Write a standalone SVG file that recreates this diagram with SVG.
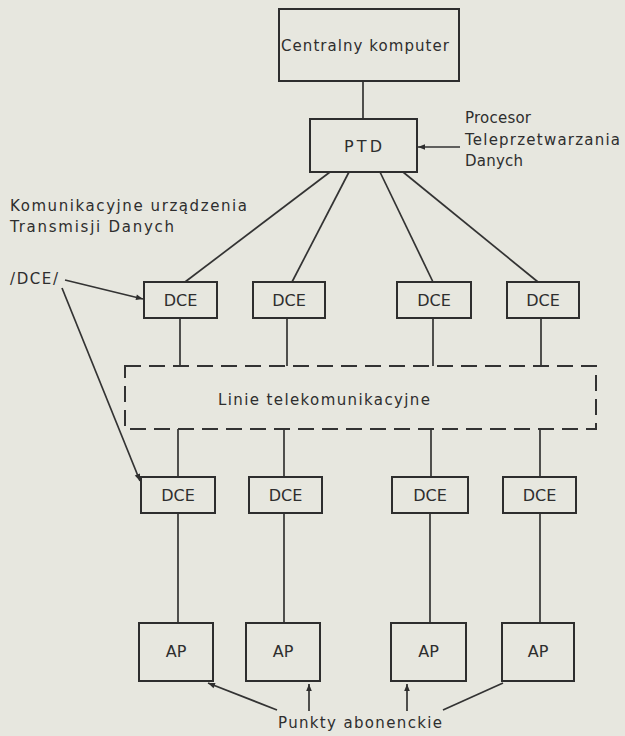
<svg xmlns="http://www.w3.org/2000/svg" width="625" height="736" viewBox="0 0 625 736">
<defs>
<style>
.box{fill:none;stroke:#2e2e2e;stroke-width:2}
.ln{fill:none;stroke:#333;stroke-width:1.7}
.dash{fill:none;stroke:#333;stroke-width:2;stroke-dasharray:16 8}
text{font-family:"DejaVu Sans","Liberation Sans",Arial,sans-serif;font-size:15px;fill:#2e2e2e}
.c{text-anchor:middle}
.b{font-size:16px}
</style>
<marker id="ah" viewBox="0 0 10 10" refX="10" refY="5" markerWidth="9" markerHeight="7" markerUnits="userSpaceOnUse" orient="auto">
<path d="M0,1 L10,5 L0,9 z" fill="#2e2e2e"/>
</marker>
</defs>
<rect x="0" y="0" width="625" height="736" fill="#e7e7df"/>

<g id="connectors">
<line class="ln" x1="363" y1="81" x2="363" y2="119"/>
<line class="ln" x1="330" y1="172" x2="185" y2="282"/>
<line class="ln" x1="349" y1="172" x2="292" y2="282"/>
<line class="ln" x1="380" y1="172" x2="433" y2="282"/>
<line class="ln" x1="403" y1="172" x2="538" y2="282"/>
<line class="ln" x1="180" y1="318" x2="180" y2="366"/>
<line class="ln" x1="287" y1="318" x2="287" y2="366"/>
<line class="ln" x1="433" y1="318" x2="433" y2="366"/>
<line class="ln" x1="541" y1="318" x2="541" y2="366"/>
<line class="ln" x1="178" y1="429" x2="178" y2="477"/>
<line class="ln" x1="284" y1="429" x2="284" y2="477"/>
<line class="ln" x1="431" y1="429" x2="431" y2="477"/>
<line class="ln" x1="540" y1="429" x2="540" y2="477"/>
<line class="ln" x1="178" y1="513" x2="178" y2="623"/>
<line class="ln" x1="284" y1="513" x2="284" y2="623"/>
<line class="ln" x1="430" y1="513" x2="430" y2="623"/>
<line class="ln" x1="540" y1="513" x2="540" y2="623"/>
<line class="ln" x1="460" y1="147" x2="418" y2="147" marker-end="url(#ah)"/>
<line class="ln" x1="65" y1="280" x2="143" y2="299" marker-end="url(#ah)"/>
<line class="ln" x1="62" y1="288" x2="140" y2="481" marker-end="url(#ah)"/>
<line class="ln" x1="277" y1="710" x2="208" y2="683" marker-end="url(#ah)"/>
<line class="ln" x1="309" y1="711" x2="309" y2="684" marker-end="url(#ah)"/>
<line class="ln" x1="407" y1="711" x2="407" y2="684" marker-end="url(#ah)"/>
<line class="ln" x1="443" y1="710" x2="503" y2="683"/>
</g>

<g id="central">
<rect class="box" x="279" y="9" width="180" height="72"/>
<text x="281" y="51" textLength="168" lengthAdjust="spacing">Centralny komputer</text>
</g>
<g id="ptd">
<rect class="box" x="310" y="119" width="107" height="53"/>
<text class="c b" x="363" y="152" textLength="38" lengthAdjust="spacing">PTD</text>
</g>
<g id="ptd-label">
<text x="465" y="123" textLength="66" lengthAdjust="spacing">Procesor</text>
<text x="465" y="145" textLength="155" lengthAdjust="spacing">Teleprzetwarzania</text>
<text x="465" y="166" textLength="58" lengthAdjust="spacing">Danych</text>
</g>
<g id="dce-label">
<text x="10" y="211" textLength="237" lengthAdjust="spacing">Komunikacyjne urządzenia</text>
<text x="10" y="232" textLength="164" lengthAdjust="spacing">Transmisji Danych</text>
<text x="10" y="284" textLength="48" lengthAdjust="spacing">/DCE/</text>
</g>

<g id="dce1"><rect class="box" x="144" y="282" width="73" height="36"/><text class="c b" x="180.5" y="306">DCE</text></g>
<g id="dce2"><rect class="box" x="253" y="282" width="72" height="36"/><text class="c b" x="289" y="306">DCE</text></g>
<g id="dce3"><rect class="box" x="397" y="282" width="74" height="36"/><text class="c b" x="434" y="306">DCE</text></g>
<g id="dce4"><rect class="box" x="507" y="282" width="72" height="36"/><text class="c b" x="543" y="306">DCE</text></g>

<g id="linie">
<rect class="dash" x="125" y="366" width="471" height="63"/>
<text x="218" y="405" textLength="212" lengthAdjust="spacing">Linie telekomunikacyjne</text>
</g>

<g id="dce5"><rect class="box" x="141" y="477" width="74" height="36"/><text class="c b" x="178" y="501">DCE</text></g>
<g id="dce6"><rect class="box" x="249" y="477" width="73" height="36"/><text class="c b" x="285.5" y="501">DCE</text></g>
<g id="dce7"><rect class="box" x="392" y="477" width="76" height="36"/><text class="c b" x="430" y="501">DCE</text></g>
<g id="dce8"><rect class="box" x="503" y="477" width="73" height="36"/><text class="c b" x="539.5" y="501">DCE</text></g>

<g id="ap1"><rect class="box" x="139" y="623" width="74" height="58"/><text class="c b" x="176" y="657">AP</text></g>
<g id="ap2"><rect class="box" x="246" y="623" width="74" height="58"/><text class="c b" x="283" y="657">AP</text></g>
<g id="ap3"><rect class="box" x="391" y="623" width="75" height="58"/><text class="c b" x="428.5" y="657">AP</text></g>
<g id="ap4"><rect class="box" x="502" y="623" width="72" height="58"/><text class="c b" x="538" y="657">AP</text></g>

<g id="punkty">
<text x="278" y="728" textLength="164" lengthAdjust="spacing">Punkty abonenckie</text>
</g>
</svg>
